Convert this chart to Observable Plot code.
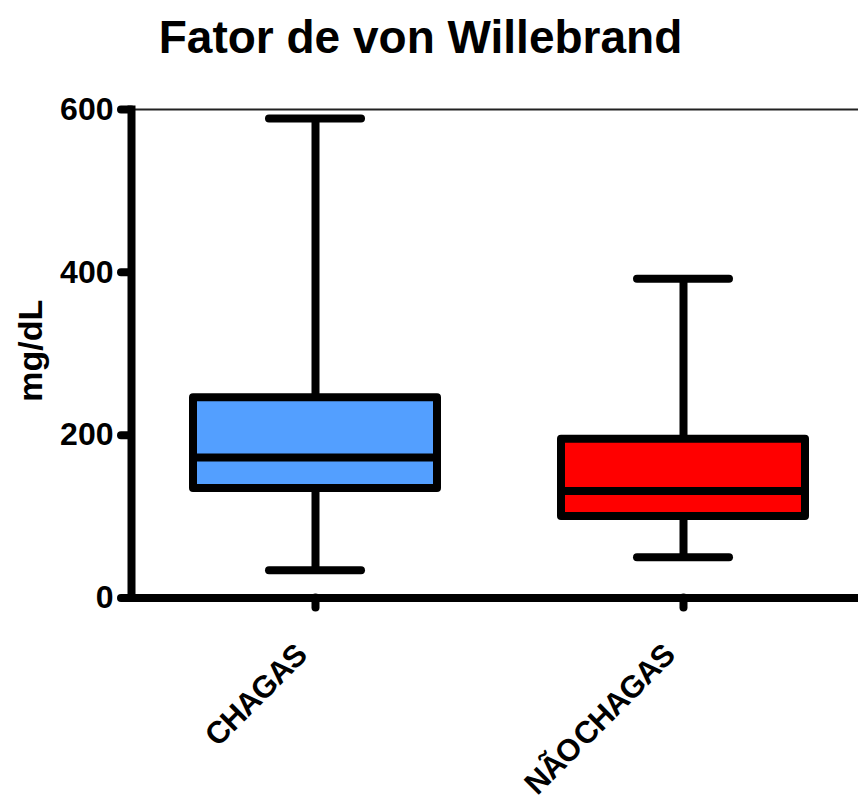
<!DOCTYPE html>
<html>
<head>
<meta charset="utf-8">
<script src="https://cdn.jsdelivr.net/npm/d3@7"></script>
<script src="https://cdn.jsdelivr.net/npm/@observablehq/plot@0.6"></script>
<style>
  html, body { margin: 0; padding: 0; background: #fff; }
  #chart svg { display: block; font-family: "Liberation Sans", Arial, sans-serif; }
  #chart g[aria-label="x-axis tick label"] text { letter-spacing: -1px; word-spacing: -5px; }
</style>
</head>
<body>
<div id="chart"></div>
<script>
const titleText = ["Fator de von Willebrand"];
const yLabelText = ["mg/dL"];
const categories = ["CHAGAS", "NÃO CHAGAS"];
const mins = [34, 50];
const q1s = [134.5, 100];
const medians = [172.5, 131.5];
const q3s = [246, 195];
const maxs = [589, 392];
const colors = ["#539FFF", "#FF0000"];
const yTicks = [0, 200, 400, 600];

const rows = categories.map((c, i) => ({
  cat: c, min: mins[i], q1: q1s[i], med: medians[i], q3: q3s[i], max: maxs[i]
}));

const W = 858, H = 797;
const mL = 131, mT = 109, mB = 199.5;
const step = 368;
const lw = 8;

const chart = Plot.plot({
  width: W,
  height: H,
  marginLeft: mL,
  marginRight: 0,
  marginTop: mT,
  marginBottom: mB,
  style: { background: "white", fontFamily: "'Liberation Sans', Arial, sans-serif", color: "black" },
  x: { type: "band", domain: categories, range: [mL, mL + 2 * step], padding: 0, axis: null, label: null },
  y: { domain: [0, d3.max(yTicks)], axis: null, label: null },
  color: { domain: categories, range: colors },
  marks: [
    Plot.ruleY([d3.max(yTicks)], { stroke: "#222", strokeWidth: 2 }),
    Plot.ruleX(rows, { x: "cat", y1: "min", y2: "max", stroke: "black", strokeWidth: lw }),
    Plot.tickY(rows, { x: "cat", y: "min", stroke: "black", strokeWidth: lw, strokeLinecap: "round", insetLeft: 138, insetRight: 138 }),
    Plot.tickY(rows, { x: "cat", y: "max", stroke: "black", strokeWidth: lw, strokeLinecap: "round", insetLeft: 138, insetRight: 138 }),
    Plot.barY(rows, { x: "cat", y1: "q1", y2: "q3", fill: "cat", stroke: "black", strokeWidth: lw, strokeLinejoin: "round", insetLeft: 62, insetRight: 62 }),
    Plot.tickY(rows, { x: "cat", y: "med", stroke: "black", strokeWidth: lw, insetLeft: 62, insetRight: 62 }),
    Plot.frame({ anchor: "left", stroke: "black", strokeWidth: lw }),
    Plot.frame({ anchor: "bottom", stroke: "black", strokeWidth: lw }),
    Plot.axisY({ ticks: yTicks, label: null, tickSize: 10, tickPadding: 8, stroke: "black", strokeWidth: lw, strokeLinecap: "round", fontSize: 32, fontWeight: "bold", fill: "black", tickFormat: d => String(d) }),
    Plot.axisX({ label: null, tickSize: 10, stroke: "black", strokeWidth: lw, strokeLinecap: "round", tickFormat: () => "" }),
    Plot.axisX({ label: null, tickSize: 0, tickPadding: 50, tickRotate: -45, dx: -14, dy: 2, fontSize: 31, fontWeight: "bold", fill: "black" }),
    Plot.text(titleText, { frameAnchor: "top-left", dx: 420 - mL, dy: 38 - mT, textAnchor: "middle", lineAnchor: "middle", fontSize: 46, fontWeight: "bold", fill: "black" }),
    Plot.text(yLabelText, { frameAnchor: "left", dx: 31 - mL, dy: -3, rotate: -90, textAnchor: "middle", lineAnchor: "middle", fontSize: 34, fontWeight: "bold", fill: "black" })
  ]
});

document.getElementById("chart").appendChild(chart);
</script>
</body>
</html>
